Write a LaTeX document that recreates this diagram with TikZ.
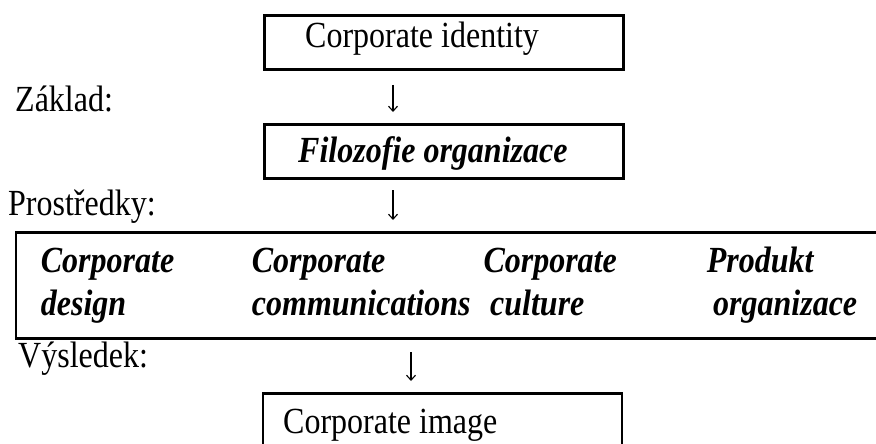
\documentclass[tikz,border=0pt]{standalone}
\usepackage{graphicx}
\usepackage{fontspec}
\setmainfont{Liberation Serif}
\usetikzlibrary{arrows.meta}
\newcommand{\vstr}[1]{\scalebox{1}[1.15]{#1}}
\begin{document}
\begin{tikzpicture}[x=1pt,y=1pt,
  lbl/.style={anchor=base west, inner sep=0pt, font=\fontsize{32}{38}\selectfont},
  bi/.style={anchor=base west, inner sep=0pt, font=\fontsize{32}{38}\selectfont\bfseries\itshape},
  darr/.style={line width=1.1pt, -{Straight Barb[length=5pt,width=9pt,line width=1.1pt]}},
  frame/.style={draw, line width=2.6pt, inner sep=0pt, anchor=north west}]
\useasboundingbox (0,0) rectangle (876,-444);
% boxes
\node[frame, minimum width=359pt, minimum height=54pt] (b1) at (263,-14) {};
\node[frame, minimum width=359pt, minimum height=54pt] (b2) at (263,-123) {};
\draw[line width=2.6pt] (876,-232.5) -- (16,-232.5) -- (16,-338.3) -- (876,-338.3);
\draw[line width=2.6pt] (263,-450) -- (263,-393.3) -- (622,-393.3) -- (622,-450);
% texts
\node[lbl] (t1) at (305,-48) {\vstr{Corporate identity}};
\node[lbl] (zak) at (15,-111) {\vstr{Základ:}};
\node[bi] (t2) at (298,-162) {\vstr{Filozofie organizace}};
\node[lbl] (pro) at (8,-215) {\vstr{Prostředky:}};
\node[bi] (c1) at (40.7,-272) {\vstr{Corporate}};
\node[bi] (c2) at (251.7,-272) {\vstr{Corporate}};
\node[bi] (c3) at (483.3,-272) {\vstr{Corporate}};
\node[bi] (c4) at (706.7,-272) {\vstr{Produkt}};
\node[bi] (d1) at (40.7,-315) {\vstr{design}};
\node[bi] (d2) at (251.7,-315) {\vstr{communications}};
\node[bi] (d3) at (490,-315) {\vstr{culture}};
\node[bi] (d4) at (713,-315) {\vstr{organizace}};
\node[lbl] (vys) at (18,-367) {\vstr{Výsledek:}};
\node[lbl] (t4) at (283,-433) {\vstr{Corporate image}};
% arrows
\coordinate (a1s) at (393,-85);  \coordinate (a1e) at (393,-112);
\coordinate (a2s) at (393,-190); \coordinate (a2e) at (393,-220);
\coordinate (a3s) at (411,-352); \coordinate (a3e) at (411,-381);
\draw[darr] (a1s) -- (a1e);
\draw[darr] (a2s) -- (a2e);
\draw[darr] (a3s) -- (a3e);
\end{tikzpicture}
\end{document}
